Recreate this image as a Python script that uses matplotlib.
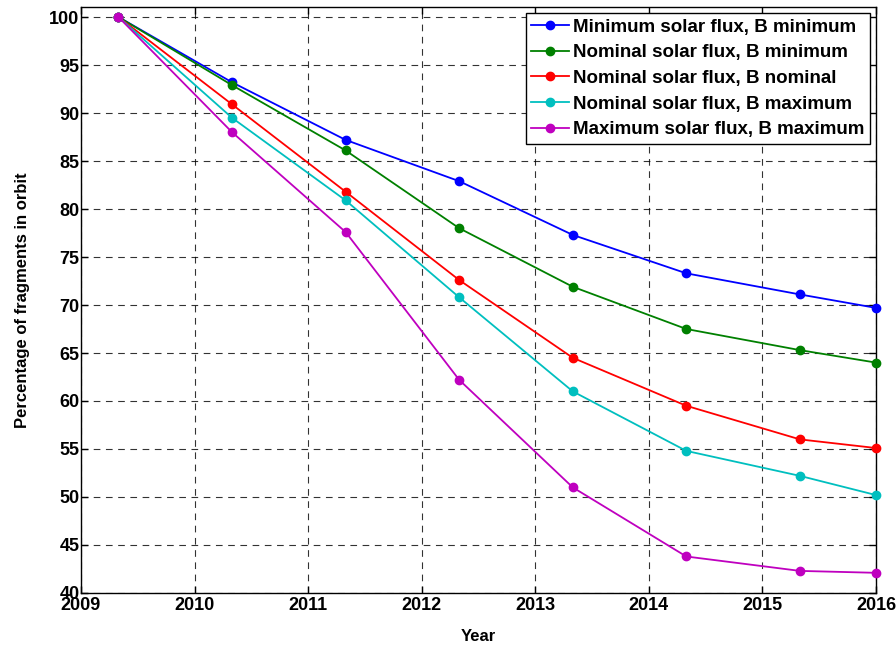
import matplotlib
matplotlib.use("Agg")
import matplotlib.pyplot as plt

# Sample epochs (years) and percentage of fragments still in orbit
years = [2009.33, 2010.33, 2011.33, 2012.33, 2013.33, 2014.33, 2015.33, 2016.0]

min_flux_b_min = [100, 93.2, 87.2, 82.9, 77.3, 73.3, 71.1, 69.7]
nom_flux_b_min = [100, 92.9, 86.1, 78.0, 71.9, 67.5, 65.3, 64.0]
nom_flux_b_nom = [100, 90.9, 81.8, 72.6, 64.5, 59.5, 56.0, 55.1]
nom_flux_b_max = [100, 89.5, 80.9, 70.8, 61.0, 54.8, 52.2, 50.2]
max_flux_b_max = [100, 88.0, 77.6, 62.2, 51.0, 43.8, 42.3, 42.1]

series_labels = [
    "Minimum solar flux, B minimum",
    "Nominal solar flux, B minimum",
    "Nominal solar flux, B nominal",
    "Nominal solar flux, B maximum",
    "Maximum solar flux, B maximum",
]
series_values = [min_flux_b_min, nom_flux_b_min, nom_flux_b_nom,
                 nom_flux_b_max, max_flux_b_max]
colours = ["#0000ff", "#008000", "#ff0000", "#00bfbf", "#bf00bf"]

x_ticks = list(range(2009, 2017))
y_ticks = list(range(40, 101, 5))

plt.rcParams['font.family'] = ['Liberation Sans', 'DejaVu Sans']
plt.rcParams['font.weight'] = 'bold'

fig = plt.figure(figsize=(8.96, 6.47), dpi=100)
ax = fig.add_axes([0.0904, 0.0835, 0.8873, 0.905])

for vals, lab, col in zip(series_values, series_labels, colours):
    ax.plot(years, vals, '-o', color=col, label=lab, linewidth=1.3,
            markersize=6, clip_on=False, zorder=3)

ax.set_xlim(2009, 2016)
ax.set_ylim(40, 101)
ax.set_xticks(x_ticks)
ax.set_yticks(y_ticks)
ax.tick_params(direction='in', labelsize=13, length=5, top=True, right=True,
               width=1)
for lbl in ax.get_xticklabels() + ax.get_yticklabels():
    lbl.set_fontweight('bold')
ax.tick_params(axis='x', pad=3)
ax.tick_params(axis='y', pad=1)

ax.grid(True, linestyle=(0, (6, 5)), color='black', linewidth=0.8, alpha=0.8)
for sp in ax.spines.values():
    sp.set_linewidth(1.0)

ax.set_xlabel("Year", fontsize=12, fontweight='bold', labelpad=11)
ax.set_ylabel("Percentage of fragments in orbit", fontsize=12,
              fontweight='bold', labelpad=14)

leg = ax.legend(loc='upper right', fancybox=False,
                edgecolor='black', framealpha=1, handlelength=2.0,
                borderpad=0.3, labelspacing=0.45, handletextpad=0.25,
                borderaxespad=0.3, prop={'weight': 'bold', 'size': 13.5})
leg.get_frame().set_linewidth(1.0)

fig.savefig("out.png", dpi=100)
